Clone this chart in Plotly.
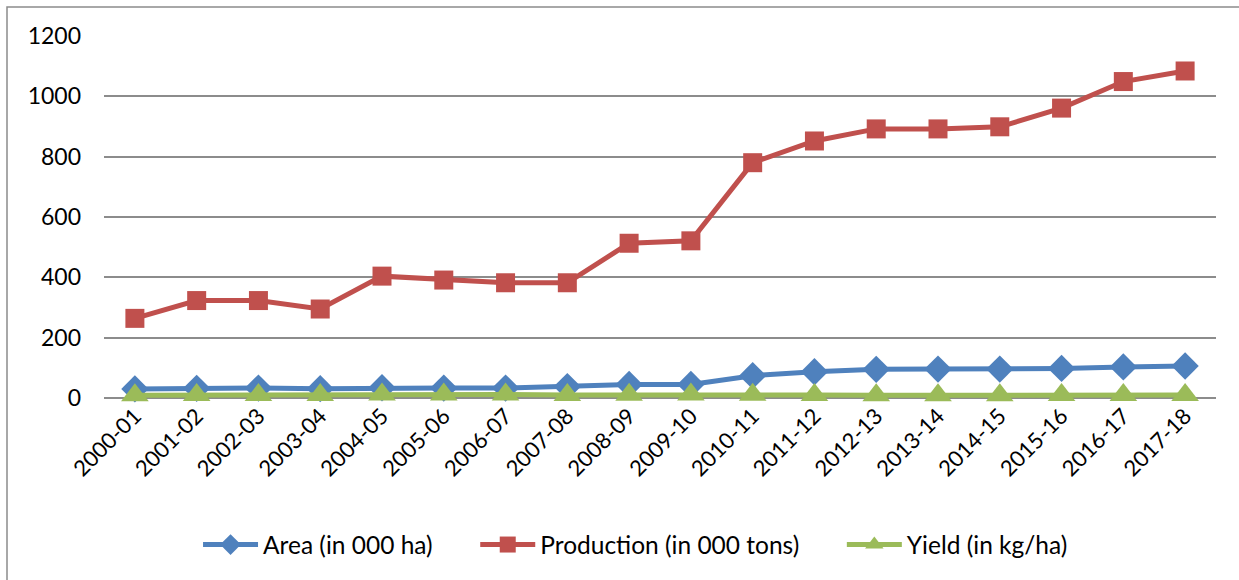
import plotly.graph_objects as go

# Crop statistics by season
seasons = ["2000-01", "2001-02", "2002-03", "2003-04", "2004-05", "2005-06",
           "2006-07", "2007-08", "2008-09", "2009-10", "2010-11", "2011-12",
           "2012-13", "2013-14", "2014-15", "2015-16", "2016-17", "2017-18"]
area = [30, 32, 33, 31, 34, 33, 33, 38, 45, 45, 74, 87, 95, 96, 96, 98, 103, 106]
production = [264, 323, 323, 295, 404, 391, 382, 382, 513, 521, 780, 852,
              892, 892, 899, 961, 1049, 1084]
yield_kg = [9, 10, 10, 10, 12, 12, 12, 10, 11, 12, 11, 10, 9, 9, 9, 10, 10, 10]

FONT = "Lato, Carlito, Calibri, sans-serif"
BLUE, RED, GREEN = "#4F81BD", "#C0504D", "#9BBB59"
GRID = "#8C8C8C"
GAP = "\u00a0" * 6

fig = go.Figure()
fig.add_trace(go.Scatter(
    x=seasons, y=area, name="Area (in 000 ha)" + GAP, mode="lines+markers",
    line=dict(color=BLUE, width=5), cliponaxis=False,
    marker=dict(symbol="diamond", size=21, color=BLUE, line=dict(width=0))))
fig.add_trace(go.Scatter(
    x=seasons, y=production, name="Production (in 000 tons)" + GAP, mode="lines+markers",
    line=dict(color=RED, width=5), cliponaxis=False,
    marker=dict(symbol="square", size=19, color=RED, line=dict(width=0))))
fig.add_trace(go.Scatter(
    x=seasons, y=yield_kg, name="Yield (in kg/ha)", mode="lines+markers",
    line=dict(color=GREEN, width=5), cliponaxis=False,
    marker=dict(symbol="triangle-up", size=24, color=GREEN, line=dict(width=0))))

fig.update_layout(
    width=1239, height=580,
    margin=dict(l=104, r=23, t=36, b=182, autoexpand=False),
    paper_bgcolor="white", plot_bgcolor="white",
    font=dict(family=FONT, size=23, color="#000000"),
    showlegend=True,
    legend=dict(orientation="h", x=0.478, xanchor="center", y=-0.405, yanchor="middle",
                font=dict(family=FONT, size=24.5), itemwidth=55,
                traceorder="normal"),
    xaxis=dict(type="category", tickangle=-45, showgrid=False, showline=False,
               automargin=False, ticks="", tickfont=dict(family=FONT, size=22),
               range=[-0.5, 17.5]),
    yaxis=dict(range=[0, 1200], dtick=200, showgrid=True, gridcolor=GRID,
               gridwidth=2, zeroline=True, zerolinecolor=GRID, zerolinewidth=2,
               showline=False, ticks="", ticklabelstandoff=22, automargin=False,
               tickfont=dict(family=FONT, size=23)),
    shapes=[dict(type="rect", xref="paper", yref="paper",
                 x0=-97 / 1112, x1=1.2, y0=-2.0, y1=1 + 29 / 362,
                 line=dict(color="#8C8C8C", width=1.5), layer="below")],
)

fig.write_html("out.html")
